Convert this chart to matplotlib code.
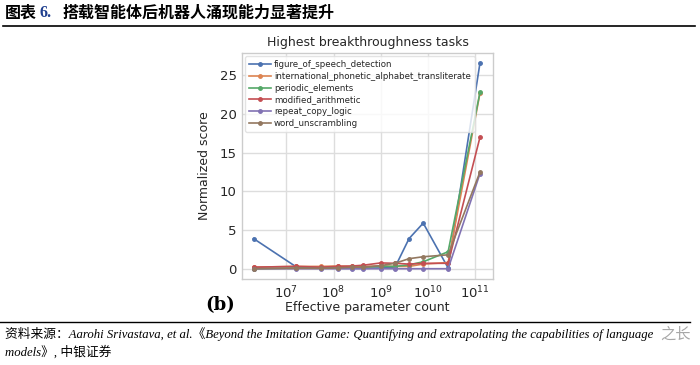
import matplotlib
matplotlib.use("Agg")
import matplotlib.pyplot as plt
import numpy as np

params = [2e6, 1.6e7, 5.3e7, 1.25e8, 2.44e8, 4.22e8, 1e9, 2e9, 4e9, 8e9, 2.7e10, 1.28e11]
task_names = ["figure_of_speech_detection",
              "international_phonetic_alphabet_transliterate",
              "periodic_elements",
              "modified_arithmetic",
              "repeat_copy_logic",
              "word_unscrambling"]
figure_of_speech = [3.9, 0.25, 0.1, 0.05, 0.05, 0.05, 0.1, 0.15, 3.9, 5.9, 0.1, 26.6]
ipa_translit = [0.2, 0.3, 0.3, 0.35, 0.3, 0.3, 0.35, 0.3, 0.3, 0.6, 0.8, 22.7]
periodic_elements = [0.0, 0.1, 0.1, 0.1, 0.15, 0.2, 0.3, 0.3, 0.5, 0.9, 2.2, 22.8]
modified_arithmetic = [0.2, 0.3, 0.2, 0.3, 0.35, 0.45, 0.75, 0.7, 0.6, 0.7, 0.7, 17.0]
repeat_copy_logic = [0, 0, 0, 0, 0, 0, 0, 0, 0, 0, 0, 12.3]
word_unscrambling = [0.0, 0.05, 0.05, 0.1, 0.2, 0.2, 0.4, 0.7, 1.3, 1.55, 1.8, 12.5]
series = [figure_of_speech, ipa_translit, periodic_elements,
          modified_arithmetic, repeat_copy_logic, word_unscrambling]
colors = ["#4c72b0", "#dd8452", "#55a868", "#c44e52", "#8172b3", "#937860"]

plt.rcParams['font.family'] = ['DejaVu Sans', 'Noto Sans CJK SC']

fig = plt.figure(figsize=(7, 3.65), dpi=100)
fig.patch.set_facecolor('white')

ax = fig.add_axes([0.346, 0.2356, 0.358, 0.619])
for name, vals, c in zip(task_names, series, colors):
    ax.plot(params, vals, color=c, marker='o', markersize=2.5, linewidth=1.2, label=name)

ax.set_xscale('log')
ax.set_xlim(10**6.06, 10**11.38)
ax.set_ylim(-1.33, 27.9)
ax.set_yticks([0, 5, 10, 15, 20, 25])
ax.set_xticks([1e7, 1e8, 1e9, 1e10, 1e11])
ax.minorticks_off()
ax.grid(True, color='#dddddd', linewidth=1.0)
ax.set_axisbelow(True)
for s in ax.spines.values():
    s.set_color('#cccccc')
    s.set_linewidth(1.0)
ax.tick_params(axis='both', length=0, labelsize=9.5, colors='#262626', pad=4)
ax.set_title("Highest breakthroughness tasks", fontsize=9, color='#262626', pad=5)
ax.set_xlabel("Effective parameter count", fontsize=9, color='#262626', labelpad=0)
ax.set_ylabel("Normalized score", fontsize=9, color='#262626', labelpad=6)
leg = ax.legend(loc='upper left', fontsize=6.2, frameon=True, handlelength=2.5,
                borderpad=0.45, labelspacing=0.33, handletextpad=0.4,
                borderaxespad=0.35)
leg.get_frame().set_edgecolor('#dddddd')
for t in leg.get_texts():
    t.set_color('#262626')

# header
hy = 1 - 13/365
fig.text(5/700, hy, "图表", fontsize=11.5, fontweight='bold',
         family=['Noto Sans CJK SC'], va='center', ha='left')
fig.text(40/700, hy, "6.", fontsize=11.5, fontweight='bold',
         family=['Liberation Serif'], color='#1f3f8f', va='center', ha='left')
fig.text(62/700, hy, "搭载智能体后机器人涌现能力显著提升", fontsize=11.5, fontweight='bold',
         family=['Noto Sans CJK SC'], va='center', ha='left')
fig.add_artist(plt.Line2D([0.004, 0.993], [1 - 26/365, 1 - 26/365], color='black', linewidth=1.2))

# (b)
fig.text(205/700, 1 - 305/365, "(b)", fontsize=13, fontweight='bold',
         family=['DejaVu Serif'], va='center', ha='left')

# footer
fig.add_artist(plt.Line2D([0.0, 0.985], [1 - 322/365, 1 - 322/365], color='black', linewidth=1.0))
fig.text(5/700, 1 - 334/365,
         "资料来源：Aarohi Srivastava, et al.《Beyond the Imitation Game: Quantifying and extrapolating the capabilities of language",
         fontsize=9.2, style='italic', family=['Liberation Serif', 'Noto Sans CJK SC'],
         va='center', ha='left')
fig.text(5/700, 1 - 352/365, "models》, 中银证券",
         fontsize=9.2, style='italic', family=['Liberation Serif', 'Noto Sans CJK SC'],
         va='center', ha='left')
fig.text(660/700, 1 - 334/365, "之长", fontsize=11, color='#8a8a8a', alpha=0.75,
         family=['Noto Sans CJK SC'], va='center', ha='left')

fig.savefig("out.png", dpi=100, facecolor='white')
